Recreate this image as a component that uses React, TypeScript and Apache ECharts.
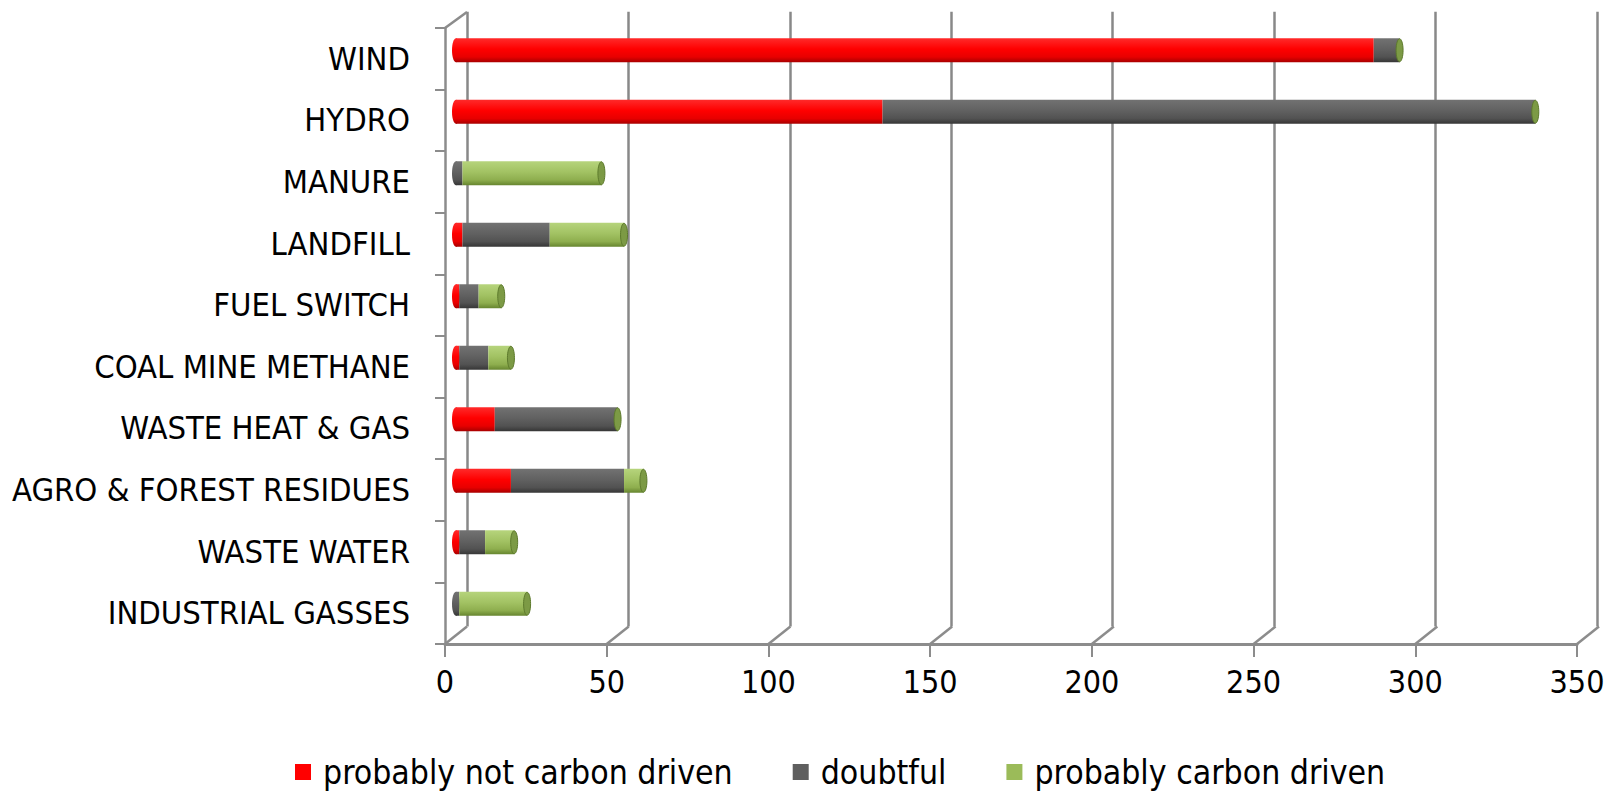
import { useEffect, useRef } from "react";
import * as echarts from "echarts";

const categories = [
  "WIND",
  "HYDRO",
  "MANURE",
  "LANDFILL",
  "FUEL SWITCH",
  "COAL MINE METHANE",
  "WASTE HEAT & GAS",
  "AGRO & FOREST RESIDUES",
  "WASTE WATER",
  "INDUSTRIAL GASSES",
];
const notCarbonDriven = [284, 132, 0, 2, 1, 1, 12, 17, 1, 0];
const doubtful = [8, 202, 2, 27, 6, 9, 38, 35, 8, 1];
const carbonDriven = [0, 0, 43, 23, 7, 7, 0, 6, 9, 21];
const xTicks = [0, 50, 100, 150, 200, 250, 300, 350];
const seriesNames = ["probably not carbon driven", "doubtful", "probably carbon driven"];

const FONT = "'Liberation Sans Narrow', 'DejaVu Sans Condensed', 'Liberation Sans', sans-serif";

const palettes = [
  { base: "#ff0000", stops: ["#ff2a2a", "#ff0000", "#e80000", "#a80000"] },
  { base: "#5f5f5f", stops: ["#727272", "#616161", "#525252", "#363636"] },
  { base: "#9bbb59", stops: ["#b6d47c", "#a2c263", "#8eae4e", "#66852f"] },
];

function grad(stops: string[]) {
  return new echarts.graphic.LinearGradient(0, 0, 0, 1, [
    { offset: 0, color: stops[0] },
    { offset: 0.45, color: stops[1] },
    { offset: 0.78, color: stops[2] },
    { offset: 1, color: stops[3] },
  ]);
}

export default function App() {
  const ref = useRef<HTMLDivElement>(null);
  useEffect(() => {
    if (!ref.current) return;
    const chart = echarts.init(ref.current, undefined, { renderer: "svg" });
    const all = [notCarbonDriven, doubtful, carbonDriven];
    const stacked = all.map((arr, si) =>
      arr.map((v, i) => {
        let start = 0;
        for (let k = 0; k < si; k++) start += all[k][i];
        return [start, start + v, i];
      })
    );

    const barSeries = seriesNames.map((name, si) => ({
      name,
      type: "custom",
      xAxisIndex: 0,
      yAxisIndex: 0,
      z: 5 + si,
      itemStyle: { color: palettes[si].base },
      encode: { x: [0, 1], y: 2 },
      data: stacked[si],
      renderItem: (params: any, api: any) => {
        const s = api.value(0);
        const e = api.value(1);
        const cat = api.value(2);
        const p0 = api.coord([s, cat]);
        const p1 = api.coord([e, cat]);
        const band = api.size([0, 1])[1];
        const h = band * 0.39;
        const y = p0[1] - h / 2;
        const children: any[] = [];
        if (e > s) {
          if (s === 0) {
            children.push({
              type: "ellipse",
              shape: { cx: p0[0], cy: p0[1], rx: 4, ry: h / 2 },
              style: { fill: grad(palettes[si].stops) },
            });
          }
          children.push({
            type: "rect",
            shape: { x: p0[0], y, width: p1[0] - p0[0], height: h },
            style: { fill: grad(palettes[si].stops) },
          });
        }
        if (si === 2) {
          children.push({
            type: "ellipse",
            shape: { cx: p1[0], cy: p1[1], rx: 3.5, ry: h / 2 - 0.5 },
            style: { fill: "#7c9a45", stroke: "#5d7a2c", lineWidth: 1 },
          });
        }
        return { type: "group", children };
      },
    }));

    const connectors = {
      type: "custom",
      xAxisIndex: 2,
      yAxisIndex: 2,
      z: 1,
      silent: true,
      encode: { x: 0, y: 1 },
      data: xTicks.map((v) => [v, 0]),
      renderItem: (params: any, api: any) => {
        const v = api.value(0);
        const p = api.coord([v, 0]);
        const cs = params.coordSys;
        const yb = cs.y + cs.height;
        const style = { stroke: "#8c8c8c", lineWidth: 2.5 };
        const children: any[] = [
          { type: "line", shape: { x1: p[0], y1: yb, x2: p[0] + 22, y2: yb - 17.5 }, style },
        ];
        if (v === 0) {
          children.push({
            type: "line",
            shape: { x1: p[0], y1: cs.y, x2: p[0] + 22, y2: cs.y - 16 },
            style,
          });
        }
        return { type: "group", children };
      },
    };

    chart.setOption({
      animation: false,
      backgroundColor: "#ffffff",
      textStyle: { fontFamily: FONT },
      grid: [
        { left: 456, right: 29, top: 19.5, bottom: 157.5, outerBoundsMode: "none" },
        { left: 467, right: 19, top: 11.7, bottom: 165.5, outerBoundsMode: "none" },
        { left: 445, right: 39, top: 28, bottom: 148, outerBoundsMode: "none" },
      ],
      legend: {
        data: seriesNames,
        left: 290,
        top: 750,
        icon: "rect",
        itemWidth: 16,
        itemHeight: 16,
        itemGap: 60,
        textStyle: { fontSize: 33.5, color: "#000", fontFamily: FONT, padding: [0, 0, 0, 7] },
      },
      xAxis: [
        { gridIndex: 0, type: "value", min: 0, max: 350, show: false },
        {
          gridIndex: 1,
          type: "value",
          min: 0,
          max: 350,
          interval: 50,
          axisLine: { show: false },
          axisTick: { show: false },
          axisLabel: { show: false },
          splitLine: { show: true, lineStyle: { color: "#888888", width: 2.5 } },
        },
        {
          gridIndex: 2,
          type: "value",
          min: 0,
          max: 350,
          interval: 50,
          axisLine: { show: true, lineStyle: { color: "#8c8c8c", width: 3 } },
          axisTick: { show: true, length: 13, lineStyle: { color: "#8c8c8c", width: 2 } },
          axisLabel: { fontSize: 32, color: "#000", margin: 22, fontFamily: FONT },
          splitLine: { show: false },
        },
      ],
      yAxis: [
        { gridIndex: 0, type: "category", data: categories, inverse: true, show: false },
        { gridIndex: 1, type: "category", data: categories, inverse: true, show: false },
        {
          gridIndex: 2,
          type: "category",
          data: categories,
          inverse: true,
          axisLine: { show: true, lineStyle: { color: "#8c8c8c", width: 2.5 } },
          axisTick: { show: true, length: 10, lineStyle: { color: "#8c8c8c", width: 2 } },
          axisLabel: { fontSize: 32.5, color: "#000", margin: 35, fontFamily: FONT },
          splitLine: { show: false },
        },
      ],
      series: [connectors, ...barSeries],
    });
    return () => chart.dispose();
  }, []);
  return (
    <div
      ref={ref}
      style={{ position: "fixed", left: 0, top: 0, width: 1616, height: 792 }}
    />
  );
}
